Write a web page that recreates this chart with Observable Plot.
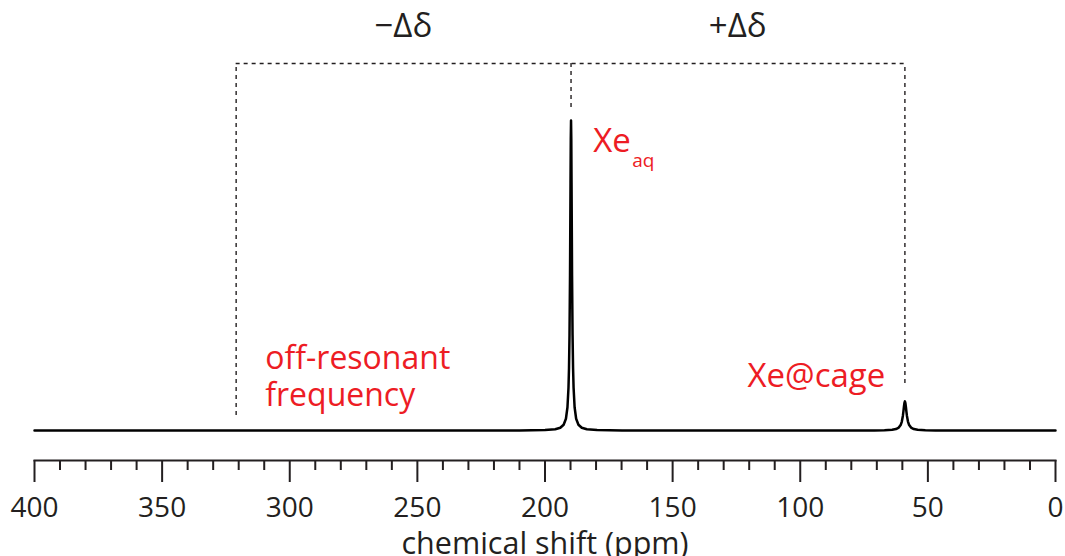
<!DOCTYPE html>
<html>
<head>
<meta charset="utf-8">
<script src="https://cdn.jsdelivr.net/npm/d3@7"></script>
<script src="https://cdn.jsdelivr.net/npm/@observablehq/plot@0.6"></script>
<style>
  html, body { margin: 0; padding: 0; background: #fff; }
  #chart svg { display: block; }
</style>
</head>
<body>
<div id="chart"></div>
<script>
// ---- data ----
// chemical shift (ppm) and relative intensity of the 129Xe spectrum
const shift = [400, 300, 250, 220, 210, 200, 196, 194, 192.7, 191.8, 191.2, 190.8, 190.6, 190.4, 190.2, 190.0, 189.9, 189.8,
  189.7, 189.6, 189.4, 189.2, 189.0, 188.8, 188.4, 187.8, 186.9, 185.6, 183.6, 179.6, 169.8, 140, 100,
  80, 71, 67, 64, 62.5, 61.4, 60.6, 60.2, 59.8, 59.6, 59.4, 59.2, 59.0, 58.8, 58.6, 58.4, 58.2, 57.8, 57.4, 56.6,
  55.5, 54, 51, 47, 30, 0];
const intensity = [0, 0, 0, 0.0001, 0.0004, 0.0015, 0.0041, 0.009, 0.0187, 0.038, 0.075, 0.138, 0.2, 0.308, 0.5, 0.8, 0.941, 1,
  0.941, 0.8, 0.5, 0.308, 0.2, 0.138, 0.075, 0.038, 0.0187, 0.009, 0.0041, 0.0015, 0.0004, 0.0001, 0,
  0, 0.0004, 0.0009, 0.0024, 0.0047, 0.0094, 0.0188, 0.029, 0.047, 0.0602, 0.0752, 0.0885, 0.094, 0.0885, 0.0752, 0.0602, 0.047, 0.029, 0.0188, 0.0094,
  0.0047, 0.0024, 0.0009, 0.0004, 0, 0];

// axis ticks
const majorTicks = [400, 350, 300, 250, 200, 150, 100, 50, 0];
const minorTicks = [390, 380, 370, 360, 340, 330, 320, 310, 290, 280, 270, 260, 240, 230, 220, 210,
  190, 180, 170, 160, 140, 130, 120, 110, 90, 80, 70, 60, 40, 30, 20, 10];
const xLabel = "chemical shift (ppm)";

// Δδ bracket (ppm positions: off-resonant, Xe_aq, Xe@cage)
const bracketShift = [321, 189.8, 59];
const bracketBottom = [0.048, 1.042, 0.152];
const bracketTop = [1.184];
const deltaText = ["\u2212\u0394\u03B4", "+\u0394\u03B4"];
const deltaShift = [255.5, 124.5];
const deltaLevel = [1.268, 1.268];

// peak annotations
const xeText = ["Xe"], xeShift = [181.1], xeLevel = [0.897];
const subText = ["aq"], subShift = [165.8], subLevel = [0.849];
const offText = ["off-resonant\nfrequency"], offShift = [309.6], offLevel = [0.203];
const cageText = ["Xe@cage"], cageShift = [66.7], cageLevel = [0.139];

// ---- build ----
const spectrum = shift.map((x, i) => ({x, y: intensity[i]}));
const pts = (texts, xs, ys) => texts.map((t, i) => ({t, x: xs[i], y: ys[i]}));
const RED = "#ed1c24";
const INK = "#231f20";

const chart = Plot.plot({
  width: 1065,
  height: 556,
  marginTop: 0,
  marginLeft: 34,
  marginRight: 10,
  marginBottom: 96,
  style: {fontFamily: "'Open Sans', sans-serif", background: "#fff", color: INK},
  x: {domain: [400, 0], range: [34, 1055]},
  y: {domain: [0, 1], range: [430, 120], axis: null},
  marks: [
    // dashed bracket
    Plot.ruleY(bracketTop, {y: d => d, x1: bracketShift[0], x2: bracketShift[2], stroke: INK, strokeWidth: 1.4, strokeDasharray: "4,4"}),
    Plot.ruleX(bracketShift, {x: d => d, y1: (d, i) => bracketBottom[i], y2: bracketTop[0], stroke: INK, strokeWidth: 1.4, strokeDasharray: "4,4"}),
    Plot.text(pts(deltaText, deltaShift, deltaLevel), {x: "x", y: "y", text: "t", fontSize: 33, fill: INK, textAnchor: "middle", lineAnchor: "bottom"}),
    // spectrum
    Plot.line(spectrum, {x: "x", y: "y", stroke: "#000", strokeWidth: 2.5, strokeLinejoin: "round"}),
    // labels
    Plot.text(pts(xeText, xeShift, xeLevel), {x: "x", y: "y", text: "t", fontSize: 33, fill: RED, textAnchor: "start", lineAnchor: "bottom"}),
    Plot.text(pts(subText, subShift, subLevel), {x: "x", y: "y", text: "t", fontSize: 19, fill: RED, textAnchor: "start", lineAnchor: "bottom"}),
    Plot.text(pts(offText, offShift, offLevel), {x: "x", y: "y", text: "t", fontSize: 32, lineHeight: 1.14, fill: RED, textAnchor: "start", lineAnchor: "top", dy: -24}),
    Plot.text(pts(cageText, cageShift, cageLevel), {x: "x", y: "y", text: "t", fontSize: 33, fill: RED, textAnchor: "end", lineAnchor: "bottom"}),
    // axis
    Plot.frame({anchor: "bottom", stroke: INK, strokeWidth: 2}),
    Plot.axisX({ticks: minorTicks, tickSize: 10, tickFormat: () => "", label: null, stroke: INK, strokeWidth: 2}),
    Plot.axisX({ticks: majorTicks, tickSize: 22, tickPadding: 15, fontSize: 28, label: null, stroke: INK, strokeWidth: 2, fill: INK, tickFormat: d => String(d)}),
    Plot.text([xLabel], {frameAnchor: "bottom", dy: 93, text: d => d, fontSize: 30.5, fill: INK, lineAnchor: "bottom"})
  ]
});
document.getElementById("chart").appendChild(chart);
</script>
</body>
</html>
